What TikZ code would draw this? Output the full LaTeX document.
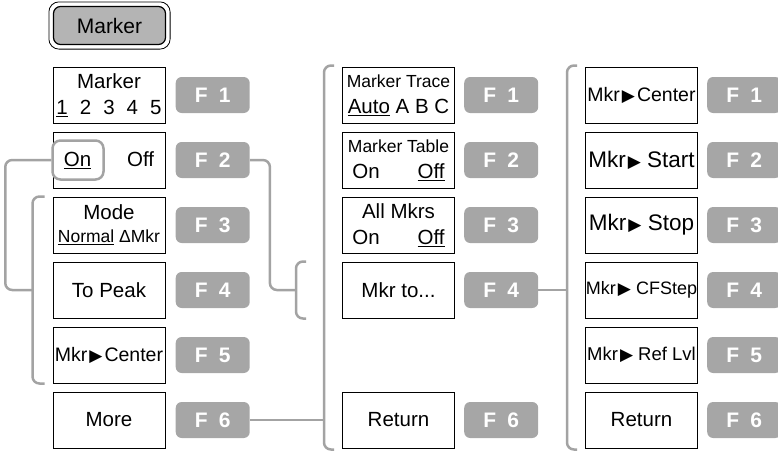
\documentclass[tikz,border=0pt]{standalone}
\usepackage{fontspec}
\setmainfont{Liberation Sans}
\newfontfamily\symfont{DejaVu Sans}
\usetikzlibrary{positioning}
\definecolor{keygray}{HTML}{A6A6A6}
\definecolor{btngray}{HTML}{B4B4B4}
\definecolor{linkgray}{HTML}{A3A3A3}
\newcommand{\fs}[1]{\fontsize{#1}{26}\selectfont}
\newcommand{\sm}{\fontsize{17.5}{26}\selectfont}
\newcommand{\tri}{\hspace{2pt}{\symfont\fontsize{17}{17}\selectfont ▶}}
\tikzset{
  softkey/.style={draw, line width=1pt, minimum width=112pt, minimum height=56pt, inner sep=0pt, align=center, font=\fs{20.5}},
  fkey/.style={fill=keygray, rounded corners=6pt, minimum width=74pt, minimum height=36pt, inner sep=0pt, text=white, font=\fs{21}\bfseries},
  onmark/.style={draw=linkgray, line width=2.5pt, rounded corners=8pt, minimum width=51pt, minimum height=39pt, inner sep=0pt},
  link/.style={linkgray, line width=2.5pt, rounded corners=7pt},
}
\begin{document}
\begin{tikzpicture}[x=1pt, y=-1pt]
    \useasboundingbox (0,0) rectangle (778,453);
    % hard key
    \node[draw, line width=1.2pt, fill=btngray, rounded corners=7pt, minimum width=112pt, minimum height=38pt, font=\fs{21}] (menukey) at (109.5,25.5) {Marker};
    \draw[line width=0.8pt, rounded corners=10pt] ([shift={(-4,-4)}]menukey.north west) rectangle ([shift={(4,4)}]menukey.south east);
    % first menu
    \node[softkey] (m11) at (109,95) {Marker\\\underline{1}\hspace{12pt}2\hspace{12pt}3\hspace{12pt}4\hspace{12pt}5};
    \node[softkey] (m12) at (109,160) {\underline{On}\hspace{36pt}Off};
    \node[softkey] (m13) at (109,225) {Mode\\[-3pt]{\sm\underline{Normal} ΔMkr}};
    \node[softkey] (m14) at (109,290) {To Peak};
    \node[softkey] (m15) at (109,355) {{\fs{19.5}Mkr\tri\hspace{2pt}Center}};
    \node[softkey] (m16) at (109,420) {More};
    % second menu
    \node[softkey] (m21) at (398.5,95) {{\sm Marker Trace}\\\underline{Auto} A B C};
    \node[softkey] (m22) at (398.5,160) {{\sm Marker Table}\\On\hspace{38pt}\underline{Off}};
    \node[softkey] (m23) at (398.5,225) {All Mkrs\\On\hspace{38pt}\underline{Off}};
    \node[softkey] (m24) at (398.5,290) {Mkr to...};
    \node[softkey] (m26) at (398.5,420) {Return};
    % third menu
    \node[softkey] (m31) at (641.5,95) {{\fs{19.5}Mkr\tri\hspace{2pt}Center}};
    \node[softkey] (m32) at (641.5,160) {{\fs{22.5}Mkr\tri\ Start}};
    \node[softkey] (m33) at (641.5,225) {{\fs{22.5}Mkr\tri\ Stop}};
    \node[softkey] (m34) at (641.5,290) {{\fs{18}Mkr\tri\ CFStep}};
    \node[softkey] (m35) at (641.5,355) {{\fs{18.5}Mkr\tri\ Ref Lvl}};
    \node[softkey] (m36) at (641.5,420) {Return};
    % function keys
    \foreach \i in {1,...,6} {
        \node[fkey, right=10pt of m1\i] (f1\i) {F\hspace{11pt}\i};
        \node[fkey, right=9pt of m3\i] (f3\i) {F\hspace{11pt}\i};
    }
    \foreach \i in {1,2,3,4,6}
        \node[fkey, right=9pt of m2\i] (f2\i) {F\hspace{11pt}\i};
    % brackets
    \draw[link] ([xshift=-8pt]m13.north west) -| ([xshift=-20pt]m15.south west) -- ([xshift=-8pt]m15.south west);
    \draw[link] ([xshift=-36pt]m24.north west) -| ([xshift=-46pt]m24.south west) -- ([xshift=-36pt]m24.south west);
    \draw[link] ([shift={(-8,-1)}]m21.north west) -| ([shift={(-18,1)}]m26.south west) -- ([shift={(-8,1)}]m26.south west);
    \draw[link] ([shift={(-8,-1)}]m31.north west) -| ([shift={(-18,1)}]m36.south west) -- ([shift={(-8,1)}]m36.south west);
    \coordinate (brk1) at ([xshift=-20pt]m14.west);
    \coordinate (brk2) at ([xshift=-18pt]m21.west);
    \coordinate (brk3) at ([xshift=-18pt]m31.west);
    \coordinate (brk4) at ([xshift=-46pt]m24.west);
    % links
    \node[onmark] (onkey) at ([xshift=25.5pt]m12.west) {};
    \draw[link] (onkey.west) -- ++(-46,0) |- (brk1);
    \draw[link] (f12.east) -- ++(20,0) |- (brk4);
    \draw[link] (f16.east) -- (f16.east -| brk2);
    \draw[link] (f24.east) -- (f24.east -| brk3);
\end{tikzpicture}
\end{document}
